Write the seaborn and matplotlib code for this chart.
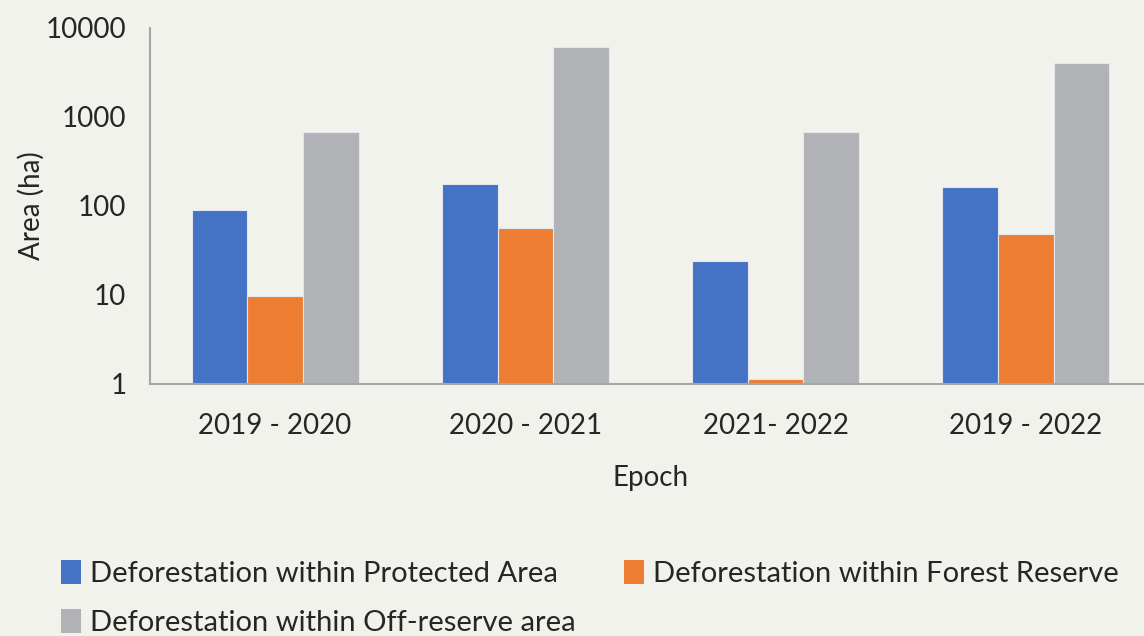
import matplotlib
matplotlib.use("Agg")
import matplotlib.pyplot as plt
import numpy as np
import pandas as pd
import seaborn as sns
from matplotlib.patches import Patch
from matplotlib.ticker import FixedLocator, NullLocator

# %% data
epochs = ["2019 - 2020", "2020 - 2021", "2021- 2022", "2019 - 2022"]
series = [
    "Deforestation within Protected Area",
    "Deforestation within Forest Reserve",
    "Deforestation within Off-reserve area",
]
protected = [90, 176, 23.6, 164]
forest_reserve = [9.7, 56, 1.11, 47.5]
off_reserve = [675, 6150, 680, 3990]

y_ticks = [1, 10, 100, 1000, 10000]
y_ticklabels = ["1", "10", "100", "1000", "10000"]

colors = ["#4472C4", "#ED7D31", "#B1B2B6"]
bg = "#F2F2ED"
ink = "#262626"
axis_grey = "#A6A6A6"

df = pd.DataFrame(
    {
        "epoch": epochs * 3,
        "series": np.repeat(series, len(epochs)),
        "area": protected + forest_reserve + off_reserve,
    }
)

# %% plot
sns.set_theme(style="white")
plt.rcParams.update(
    {
        "font.family": ["Lato", "DejaVu Sans"],
        "text.color": ink,
        "xtick.color": ink,
        "ytick.color": ink,
        "axes.labelcolor": ink,
    }
)

fig = plt.figure(figsize=(11.44, 6.36), dpi=100, facecolor=bg)
ax = fig.add_axes([0.1311, 0.397, 0.875, 0.5594])
ax.set_facecolor(bg)
ax.set_yscale("log")

sns.barplot(
    data=df,
    x="epoch",
    y="area",
    hue="series",
    order=epochs,
    hue_order=series,
    palette=colors,
    saturation=1,
    width=0.667,
    edgecolor="#E4E6EE",
    linewidth=0.8,
    legend=False,
    ax=ax,
)

ax.set_ylim(1, 10000)
ax.set_xlim(-0.5, 3.5)
ax.yaxis.set_major_locator(FixedLocator(y_ticks))
ax.yaxis.set_minor_locator(NullLocator())
ax.set_yticklabels(y_ticklabels)

# category boundary ticks on the x axis, labels centred between them
ax.set_xticks(np.arange(len(epochs)))
ax.set_xticklabels(epochs)
ax.xaxis.set_minor_locator(FixedLocator(np.arange(len(epochs) + 1) - 0.5))
ax.tick_params(axis="x", which="major", length=0, pad=21, labelsize=20)
ax.tick_params(axis="x", which="minor", length=10, width=1.5, color=axis_grey, direction="out")
ax.tick_params(axis="y", which="major", length=10, width=1.5, color=axis_grey, direction="out",
               pad=7, labelsize=20)

for side in ["top", "right"]:
    ax.spines[side].set_visible(False)
for side in ["left", "bottom"]:
    ax.spines[side].set_color(axis_grey)
    ax.spines[side].set_linewidth(1.5)

ax.set_xlabel("Epoch", fontsize=20, labelpad=19)
ax.set_ylabel("Area (ha)", fontsize=20, labelpad=1)

# legend: columns fill first, so reorder to get Protected / Forest on the top row
handles = [Patch(facecolor=c, edgecolor="none") for c in colors]
order = [0, 2, 1]
fig.legend(
    [handles[i] for i in order],
    [series[i] for i in order],
    loc="upper left",
    bbox_to_anchor=(0.053, 0.12),
    ncol=2,
    frameon=False,
    fontsize=21,
    handlelength=0.7,
    handleheight=0.9,
    handletextpad=0.3,
    columnspacing=1.65,
    labelspacing=0.75,
    borderpad=0,
    borderaxespad=0,
)

fig.savefig("out.png", dpi=100, facecolor=bg)
